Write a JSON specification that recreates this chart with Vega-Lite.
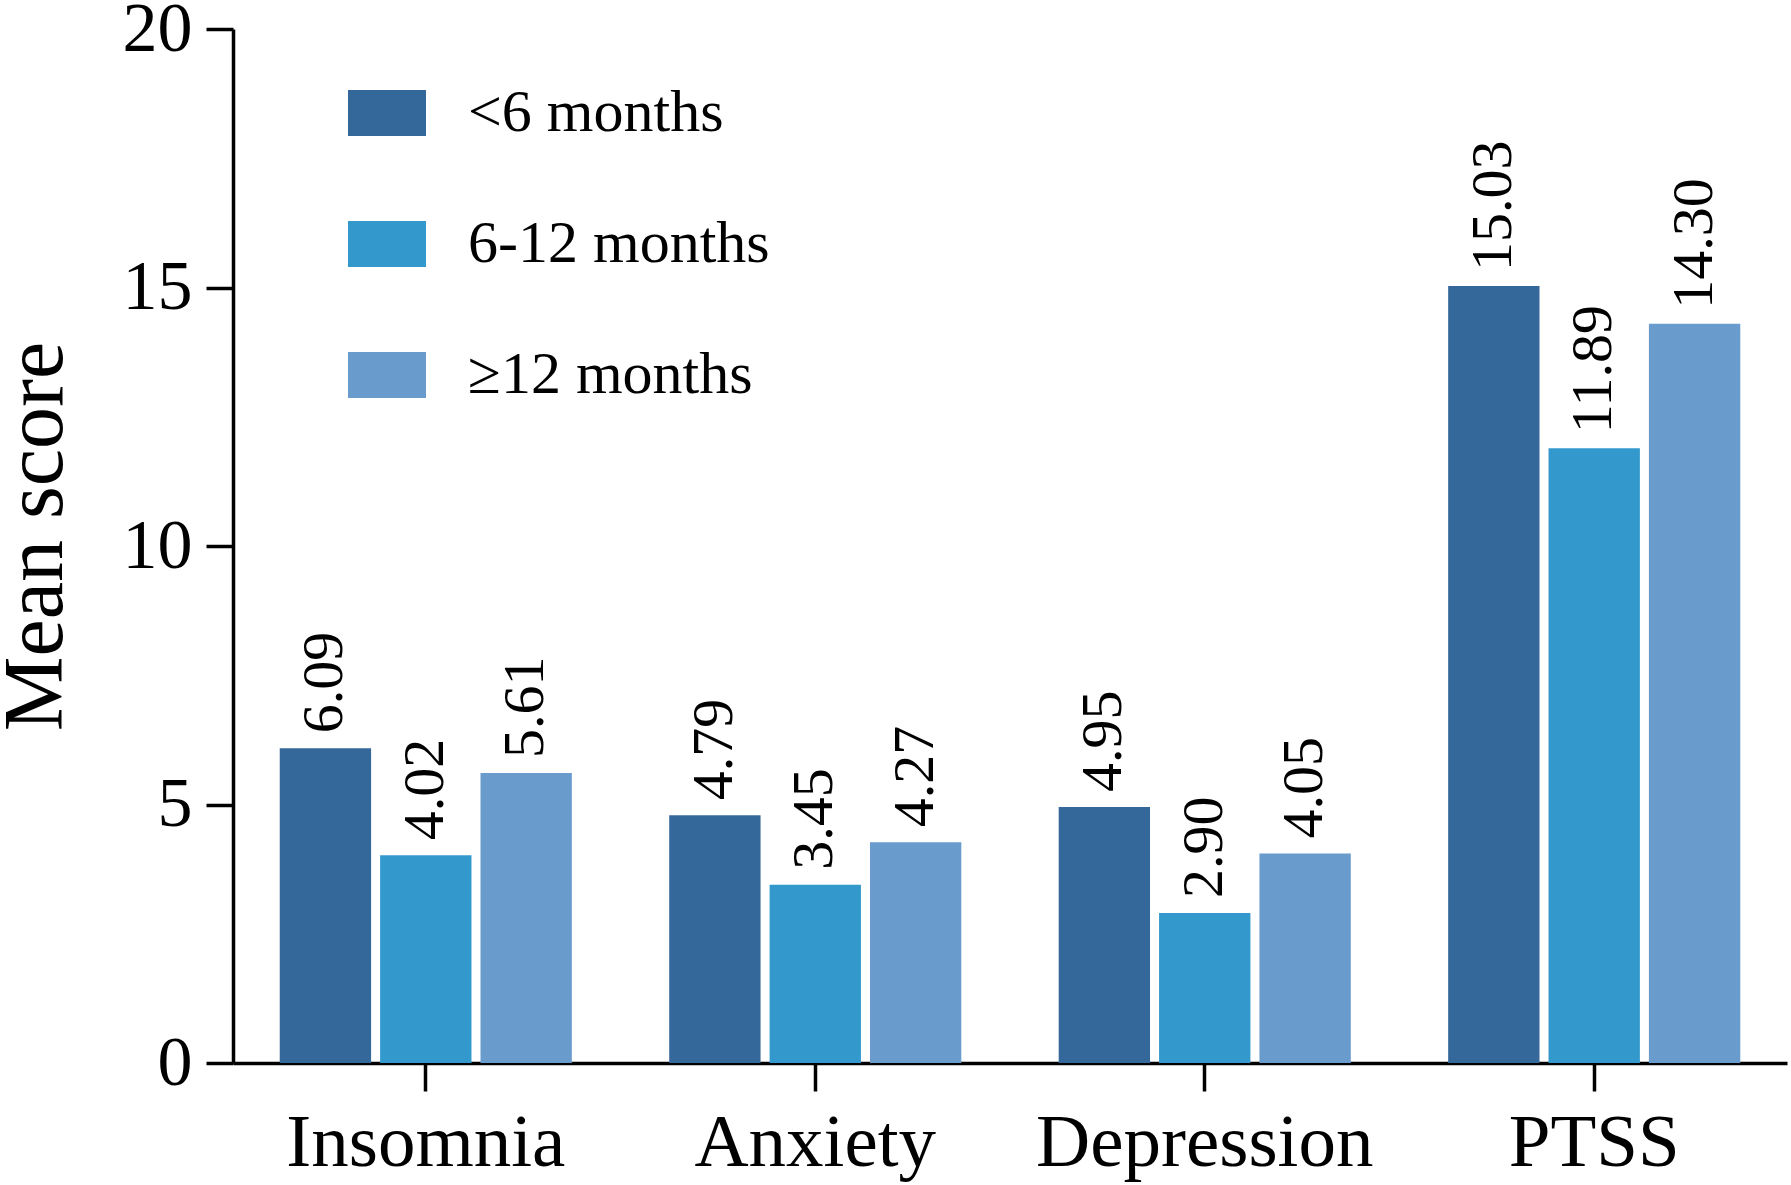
{
  "$schema": "https://vega.github.io/schema/vega-lite/v6.json",
  "width": 1554,
  "height": 1034,
  "autosize": {"type": "none"},
  "padding": {"left": 233, "top": 29, "right": 4, "bottom": 122},
  "background": "white",
  "config": {"view": {"stroke": null}, "font": "Liberation Serif"},
  "data": {
    "values": [
      {"measure": "Insomnia", "group": "<6 months", "score": 6.09},
      {"measure": "Insomnia", "group": "6-12 months", "score": 4.02},
      {"measure": "Insomnia", "group": "≥12 months", "score": 5.61},
      {"measure": "Anxiety", "group": "<6 months", "score": 4.79},
      {"measure": "Anxiety", "group": "6-12 months", "score": 3.45},
      {"measure": "Anxiety", "group": "≥12 months", "score": 4.27},
      {"measure": "Depression", "group": "<6 months", "score": 4.95},
      {"measure": "Depression", "group": "6-12 months", "score": 2.90},
      {"measure": "Depression", "group": "≥12 months", "score": 4.05},
      {"measure": "PTSS", "group": "<6 months", "score": 15.03},
      {"measure": "PTSS", "group": "6-12 months", "score": 11.89},
      {"measure": "PTSS", "group": "≥12 months", "score": 14.30}
    ]
  },
  "encoding": {
    "x": {
      "field": "measure",
      "type": "nominal",
      "sort": ["Insomnia", "Anxiety", "Depression", "PTSS"],
      "scale": {"paddingInner": 0.25, "paddingOuter": 0.12},
      "axis": {
        "title": null,
        "labelAngle": 0,
        "labelFont": "Liberation Serif",
        "labelFontSize": 75,
        "labelColor": "black",
        "labelBaseline": "alphabetic",
        "labelPadding": 74,
        "labelLimit": 0,
        "domainColor": "black",
        "domainWidth": 3.5,
        "tickColor": "black",
        "tickWidth": 3.5,
        "tickSize": 28,
        "grid": false
      }
    },
    "xOffset": {
      "field": "group",
      "type": "nominal",
      "sort": ["<6 months", "6-12 months", "≥12 months"],
      "scale": {"paddingInner": 0.09}
    },
    "y": {
      "field": "score",
      "type": "quantitative",
      "scale": {"domain": [0, 20], "nice": false},
      "axis": {
        "title": "Mean score",
        "titleFont": "Liberation Serif",
        "titleFontSize": 84,
        "titleFontWeight": "normal",
        "titleColor": "black",
        "titleAngle": -90,
        "titleBaseline": "alphabetic",
        "titleAlign": "center",
        "titleX": -172,
        "titleY": 507,
        "values": [0, 5, 10, 15, 20],
        "labelFont": "Liberation Serif",
        "labelFontSize": 70,
        "labelColor": "black",
        "labelPadding": 14,
        "domainColor": "black",
        "domainWidth": 3.5,
        "tickColor": "black",
        "tickWidth": 3.5,
        "tickSize": 27,
        "grid": false
      }
    }
  },
  "layer": [
    {
      "mark": {"type": "bar"},
      "encoding": {
        "color": {
          "field": "group",
          "type": "nominal",
          "sort": ["<6 months", "6-12 months", "≥12 months"],
          "scale": {"range": ["#35689A", "#3399CC", "#699BCD"]},
          "legend": {
            "orient": "none",
            "legendX": 115,
            "legendY": 45,
            "title": null,
            "direction": "vertical",
            "symbolType": "M-1,-0.59H1V0.59H-1Z",
            "symbolSize": 6084,
            "symbolStrokeWidth": 0,
            "labelFont": "Liberation Serif",
            "labelFontSize": 60,
            "labelColor": "black",
            "labelOffset": 42,
            "labelLimit": 0,
            "rowPadding": 62
          }
        }
      }
    },
    {
      "mark": {
        "type": "text",
        "angle": -90,
        "align": "left",
        "baseline": "middle",
        "dx": 15,
        "font": "Liberation Serif",
        "fontSize": 58,
        "color": "black"
      },
      "encoding": {
        "text": {"field": "score", "type": "quantitative", "format": ".2f"}
      }
    }
  ]
}
